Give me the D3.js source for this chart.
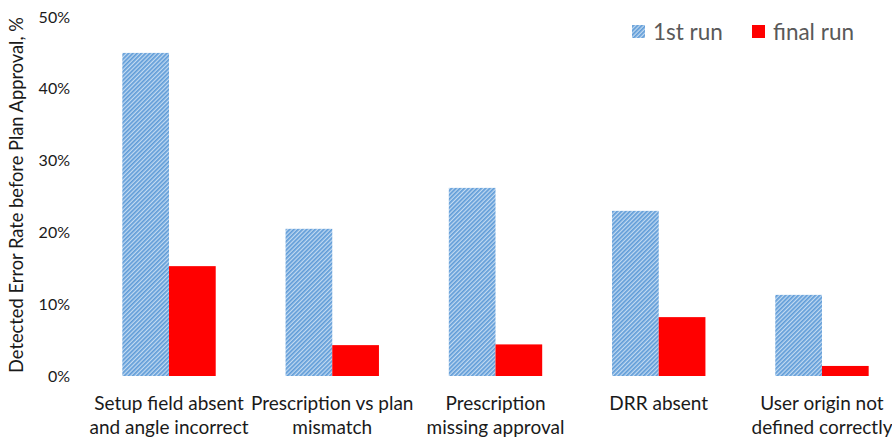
<!DOCTYPE html>
<html>
<head>
<meta charset="utf-8">
<script src="https://cdn.jsdelivr.net/npm/d3@7"></script>
<style>
  body { margin: 0; background: #fff; }
  svg { display: block; font-family: Lato, "Open Sans", sans-serif; }
</style>
</head>
<body>
<div id="chart"></div>
<script>
// chart data
const categories = [
  ["Setup field absent", "and angle incorrect"],
  ["Prescription vs plan", "mismatch"],
  ["Prescription", "missing approval"],
  ["DRR absent"],
  ["User origin not", "defined correctly"]
];
const seriesNames = ["1st run", "final run"];
const firstRun = [45, 20.5, 26.2, 23.0, 11.3];
const finalRun = [15.3, 4.3, 4.4, 8.2, 1.4];
const yTicks = [0, 10, 20, 30, 40, 50];

const width = 892, height = 440;
const svg = d3.select("#chart").append("svg")
  .attr("width", width).attr("height", height);

// hatch pattern for the first run bars
const defs = svg.append("defs");
const pat = defs.append("pattern")
  .attr("id", "hatch")
  .attr("patternUnits", "userSpaceOnUse")
  .attr("width", 3).attr("height", 3)
  .attr("patternTransform", "rotate(45)");
pat.append("rect").attr("width", 3).attr("height", 3).attr("fill", "#c2daf1");
pat.append("rect").attr("width", 1.7).attr("height", 3).attr("fill", "#5f9cd8");

const colors = ["url(#hatch)", "#ff0000"];
const keys = categories.map((c, i) => "c" + i);

const x0 = d3.scaleBand().domain(keys).range([87.4, 903.6]).padding(0);
const x1 = d3.scaleBand().domain(seriesNames).range([0, x0.bandwidth()])
  .paddingInner(0).paddingOuter(0.748);
const y = d3.scaleLinear().domain([0, 50]).range([376, 17]);

// y axis (labels only)
const yAxis = svg.append("g")
  .attr("transform", "translate(76,0)")
  .call(d3.axisLeft(y).tickValues(yTicks).tickFormat(d => d + "%").tickSize(0).tickPadding(6));
yAxis.select(".domain").remove();
yAxis.selectAll("text")
  .attr("font-family", "Lato, sans-serif")
  .attr("font-size", 16)
  .attr("fill", "#1a1a1a");

// y axis title
svg.append("text")
  .attr("transform", "translate(23,195) rotate(-90)")
  .attr("text-anchor", "middle")
  .attr("font-size", 18.3)
  .attr("fill", "#1a1a1a")
  .text("Detected Error Rate before Plan Approval, %");

// bars
const rows = keys.map((k, i) => ({ key: k, values: [firstRun[i], finalRun[i]] }));
const groups = svg.append("g").selectAll("g")
  .data(rows).join("g")
  .attr("transform", d => `translate(${x0(d.key)},0)`);
groups.selectAll("rect")
  .data(d => d.values.map((v, j) => ({ name: seriesNames[j], v, j })))
  .join("rect")
  .attr("x", d => x1(d.name))
  .attr("width", x1.bandwidth())
  .attr("y", d => y(d.v))
  .attr("height", d => y(0) - y(d.v))
  .attr("fill", d => colors[d.j]);

// category labels
const xl = svg.append("g");
categories.forEach((lines, i) => {
  const t = xl.append("text")
    .attr("x", x0(keys[i]) + x0.bandwidth() / 2)
    .attr("y", 410)
    .attr("text-anchor", "middle")
    .attr("font-size", 19)
    .attr("fill", "#1a1a1a");
  lines.forEach((ln, k) => {
    t.append("tspan")
      .attr("x", x0(keys[i]) + x0.bandwidth() / 2)
      .attr("dy", k === 0 ? 0 : 24)
      .text(ln);
  });
});

// legend
const legendX = [632, 752];
const legend = svg.append("g");
seriesNames.forEach((name, j) => {
  legend.append("rect")
    .attr("x", legendX[j]).attr("y", 25)
    .attr("width", 13).attr("height", 13)
    .attr("fill", colors[j]);
  legend.append("text")
    .attr("x", legendX[j] + 21).attr("y", 39.5)
    .attr("font-size", 22.5)
    .attr("fill", "#595959")
    .text(name);
});
</script>
</body>
</html>
